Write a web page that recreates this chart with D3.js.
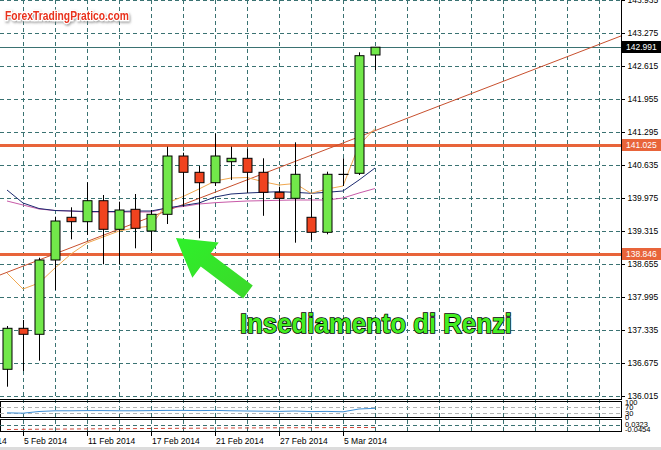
<!DOCTYPE html>
<meta charset="utf-8">
<style>
  body { margin: 0; background: #fff; }
  svg { display: block; font-family: "Liberation Sans", Arial, sans-serif; }
  .grid line { stroke: #3a7272; stroke-dasharray: 4,3; shape-rendering: crispEdges; }
  .yaxis path { display: none; }
  .yaxis line { stroke: #000; shape-rendering: crispEdges; }
  .yaxis text { font-size: 8.5px; fill: #000; }
  .xlab { font-size: 8.5px; fill: #000; }
</style>
<script src="https://cdnjs.cloudflare.com/ajax/libs/d3/7.8.5/d3.min.js"></script>
<body>
<script>

// daily candles, 4 Feb 2014 .. 7 Mar 2014
var dates = ["4 Feb 2014","5 Feb 2014","6 Feb 2014","7 Feb 2014","10 Feb 2014","11 Feb 2014","12 Feb 2014","13 Feb 2014","14 Feb 2014","17 Feb 2014","18 Feb 2014","19 Feb 2014","20 Feb 2014","21 Feb 2014","24 Feb 2014","25 Feb 2014","26 Feb 2014","27 Feb 2014","28 Feb 2014","3 Mar 2014","4 Mar 2014","5 Mar 2014","6 Mar 2014","7 Mar 2014"];
var open  = [136.549,137.369,137.249,138.735,139.589,139.501,139.921,139.349,139.749,139.315,139.649,140.815,140.489,140.281,140.701,140.769,140.489,140.089,139.969,139.589,139.289,140.445,140.469,142.835];
var high  = [137.415,137.535,138.781,139.601,139.789,140.289,140.035,139.901,140.055,139.735,141.001,140.881,140.615,141.265,141.001,140.959,140.769,140.201,141.089,140.035,140.501,140.769,142.889,142.995];
var low   = [136.201,136.515,136.721,138.135,139.149,139.235,138.649,138.655,138.969,138.915,139.455,139.801,139.169,140.215,140.335,140.079,139.619,138.769,139.081,139.135,139.249,140.215,140.435,142.535];
var close = [137.369,137.249,138.735,139.515,139.501,139.921,139.349,139.735,139.369,139.649,140.815,140.489,140.281,140.815,140.769,140.489,140.089,139.969,140.449,139.289,140.449,140.449,142.821,142.991];

// moving averages
var maFast = [138.475,138.155,138.275,138.575,138.855,139.075,139.195,139.315,139.375,139.415,139.875,140.005,140.155,140.315,140.375,140.385,140.301,140.235,140.265,140.069,140.155,140.215,141.035,141.365];
var maMid  = [140.135,139.875,139.765,139.725,139.715,139.705,139.705,139.705,139.715,139.715,139.775,139.825,139.875,139.995,140.055,140.075,140.089,140.101,140.089,140.069,140.089,140.115,140.335,140.575];
var maSlow = [139.915,139.835,139.755,139.725,139.715,139.695,139.695,139.695,139.695,139.695,139.775,139.805,139.855,139.881,139.899,139.915,139.921,139.929,139.935,139.935,139.935,139.975,140.075,140.165];

// sub-window indicators
var rsi  = [31.3,28.7,40,44.7,44.7,46,46,44.7,44.7,46,47.3,47.3,46,47.3,44.7,43.3,42,40.7,43.3,39.3,40.7,38,56.7,61.3];
var macdSignal = [-0.0348,-0.0340,-0.0327,-0.0320,-0.0313,-0.0305,-0.0298,-0.0292,-0.0285,-0.0277,-0.0270,-0.0263,-0.0256,-0.0249,-0.0242,-0.0238,-0.0234,-0.0228,-0.0224,-0.0220,-0.0214,-0.0210,-0.0207,-0.0210];

// axes
var yTicks = [143.935,143.275,142.615,141.955,141.295,140.635,139.975,139.315,138.655,137.995,137.335,136.675,136.015];
var xTickIdx = [-3,1,5,9,13,17,21];
var xTickLabels = ["30 Jan 2014","5 Feb 2014","11 Feb 2014","17 Feb 2014","21 Feb 2014","27 Feb 2014","5 Mar 2014"];
var rsiLabels = [100, 70, 30, 0];
var macdLabels = ["0.0323", "-0.0454"];

// drawn objects
var bidPrice = 142.991;
var levels = [141.025, 138.846];
var trendPts = [[0, 138.489], [24, 141.445]];
var arrowPts = [[15.06, 138.095], [10.56, 139.175]];   // tail, tip
var noteText = "Insediamento di Renzi";
var notePos = [14.56, 137.275];

var W = 661, H = 450, plotW = 621, plotH = 399;

var svg = d3.select("body").append("svg")
    .attr("width", W)
    .attr("height", H);

svg.append("rect").attr("width", W).attr("height", H).attr("fill", "#fff");

var defs = svg.append("defs");
defs.append("clipPath").attr("id", "clip")
  .append("rect").attr("width", plotW).attr("height", plotH);
var sh = defs.append("filter").attr("id", "shadow")
    .attr("x", "-10%").attr("y", "-30%").attr("width", "120%").attr("height", "170%");
sh.append("feDropShadow").attr("dx", 1).attr("dy", 1.5).attr("stdDeviation", 1)
    .attr("flood-color", "#777").attr("flood-opacity", 0.7);

var x = d3.scaleLinear().domain([-0.4375, 38.375]).range([0, plotW]);
var y = d3.scaleLinear().domain([136.015, 143.935]).range([396, 0]);
var rsiY = d3.scaleLinear().domain([0, 100]).range([417.5, 402.5]);
var macdY = d3.scaleLinear().domain([-0.0454, 0.0323]).range([431, 420]);

var idx = d3.range(dates.length);
var gridIdx = d3.range(1, 38, 2);

// vertical grid through all windows
svg.append("g").attr("class", "grid")
  .selectAll("line").data(gridIdx).enter().append("line")
    .attr("x1", function(d) { return Math.round(x(d)) + 0.5; })
    .attr("x2", function(d) { return Math.round(x(d)) + 0.5; })
    .attr("y1", 0).attr("y2", 431);

// horizontal grid
svg.append("g").attr("class", "grid")
  .selectAll("line").data(yTicks).enter().append("line")
    .attr("x1", 0).attr("x2", plotW)
    .attr("y1", function(d) { return Math.round(y(d)) + 0.5; })
    .attr("y2", function(d) { return Math.round(y(d)) + 0.5; });

var main = svg.append("g").attr("clip-path", "url(#clip)");

// bid line
main.append("line")
    .attr("x1", 0).attr("x2", plotW)
    .attr("y1", Math.round(y(bidPrice)) + 0.5).attr("y2", Math.round(y(bidPrice)) + 0.5)
    .attr("stroke", "#3a7272").attr("stroke-width", 1);

// support / resistance
main.selectAll(".lvl").data(levels).enter().append("line")
    .attr("class", "lvl")
    .attr("x1", 0).attr("x2", plotW)
    .attr("y1", function(d) { return y(d); }).attr("y2", function(d) { return y(d); })
    .attr("stroke", "#e8643a").attr("stroke-width", 3);

// trend line (ray)
var slope = (trendPts[1][1] - trendPts[0][1]) / (trendPts[1][0] - trendPts[0][0]);
var tEnd = x.invert(plotW + 5);
var tStart = x.invert(-5);
main.append("line")
    .attr("x1", x(tStart)).attr("y1", y(trendPts[0][1] + slope * (tStart - trendPts[0][0])))
    .attr("x2", x(tEnd)).attr("y2", y(trendPts[0][1] + slope * (tEnd - trendPts[0][0])))
    .attr("stroke", "#c8502e").attr("stroke-width", 1);

// moving averages
function maLine(arr, col) {
  main.append("path")
    .datum(arr)
    .attr("fill", "none")
    .attr("stroke", col)
    .attr("stroke-width", 1)
    .attr("d", d3.line().x(function(d, i) { return x(i); }).y(function(d) { return y(d); }));
}
maLine(maSlow, "#c85aa8");
maLine(maMid, "#1c2a70");
maLine(maFast, "#f0a850");

// candles
var candles = main.selectAll(".candle").data(idx).enter().append("g").attr("class", "candle");
candles.append("line")
    .attr("x1", function(i) { return Math.round(x(i)) + 0.5; })
    .attr("x2", function(i) { return Math.round(x(i)) + 0.5; })
    .attr("y1", function(i) { return y(high[i]); })
    .attr("y2", function(i) { return y(low[i]); })
    .attr("stroke", "#000");
candles.append("rect")
    .attr("x", function(i) { return Math.round(x(i)) - 4; })
    .attr("width", 9)
    .attr("y", function(i) { return y(Math.max(open[i], close[i])); })
    .attr("height", function(i) { return Math.max(0.1, Math.abs(y(open[i]) - y(close[i]))); })
    .attr("fill", function(i) { return close[i] >= open[i] ? "#72e84a" : "#f0431f"; })
    .attr("stroke", "#000").attr("stroke-width", 1);

// main window frame
svg.append("line").attr("x1", 0).attr("x2", 622).attr("y1", 399.5).attr("y2", 399.5).attr("stroke", "#000");
svg.append("line").attr("x1", 621.5).attr("x2", 621.5).attr("y1", 0).attr("y2", 400).attr("stroke", "#000");

// price axis
svg.append("g")
    .attr("class", "yaxis")
    .attr("transform", "translate(621.5,0)")
    .call(d3.axisRight(y).tickValues(yTicks).tickSize(3).tickPadding(3).tickFormat(d3.format(".3f")));

// price labels on axis
var tags = [{v: bidPrice, bg: "#000"}, {v: levels[0], bg: "#e8643a"}, {v: levels[1], bg: "#e8643a"}];
var tg = svg.selectAll(".tag").data(tags).enter().append("g").attr("class", "tag");
tg.append("rect")
    .attr("x", 622).attr("width", 39)
    .attr("y", function(d) { return Math.round(y(d.v)) - 6; }).attr("height", 12)
    .attr("fill", function(d) { return d.bg; });
tg.append("text")
    .attr("x", 626).attr("y", function(d) { return y(d.v); }).attr("dy", "0.34em")
    .attr("font-size", "8.5px").attr("fill", "#fff")
    .text(function(d) { return d3.format(".3f")(d.v); });

// RSI window
svg.append("rect").attr("x", 0.5).attr("y", 401.5).attr("width", 621).attr("height", 16)
    .attr("fill", "none").attr("stroke", "#000");
svg.selectAll(".rsilvl").data([70, 30]).enter().append("line")
    .attr("x1", 0).attr("x2", 621)
    .attr("y1", function(d) { return Math.round(rsiY(d)) + 0.5; })
    .attr("y2", function(d) { return Math.round(rsiY(d)) + 0.5; })
    .attr("stroke", "#b4b4b4").attr("stroke-dasharray", "4,3");
svg.append("path").datum(rsi)
    .attr("fill", "none").attr("stroke", "#3c8ed6").attr("stroke-width", 1)
    .attr("d", d3.line().x(function(d, i) { return x(i); }).y(function(d) { return rsiY(d); }));
svg.selectAll(".rsilab").data(rsiLabels).enter().append("text")
    .attr("x", 625).attr("y", function(d) { return rsiY(d); }).attr("dy", "0.34em")
    .attr("font-size", "7.5px").text(function(d) { return d; });

// MACD window
svg.append("rect").attr("x", 0.5).attr("y", 419.5).attr("width", 621).attr("height", 12)
    .attr("fill", "none").attr("stroke", "#000");
svg.append("line").attr("x1", 0).attr("x2", 621)
    .attr("y1", Math.round(macdY(0)) + 0.5).attr("y2", Math.round(macdY(0)) + 0.5)
    .attr("stroke", "#3a7272").attr("stroke-dasharray", "4,3");
svg.append("path").datum(macdSignal)
    .attr("fill", "none").attr("stroke", "#d04a3c").attr("stroke-width", 1).attr("stroke-dasharray", "4,3")
    .attr("d", d3.line().x(function(d, i) { return x(i); }).y(function(d) { return macdY(d); }));
svg.selectAll(".macdlab").data(macdLabels).enter().append("text")
    .attr("x", 625).attr("y", function(d, i) { return i === 0 ? 424 : 429; }).attr("dy", "0.34em")
    .attr("font-size", "7.5px").text(function(d) { return d; });

// time axis
svg.selectAll(".xtick").data(xTickIdx).enter().append("line")
    .attr("x1", function(d) { return Math.round(x(d)) + 0.5; })
    .attr("x2", function(d) { return Math.round(x(d)) + 0.5; })
    .attr("y1", 432).attr("y2", 436).attr("stroke", "#000");
svg.selectAll(".xlab").data(xTickIdx).enter().append("text")
    .attr("class", "xlab")
    .attr("x", function(d) { return Math.round(x(d)) + 1; })
    .attr("y", 444)
    .text(function(d, i) { return xTickLabels[i]; });

svg.append("rect").attr("x", 0).attr("y", 447).attr("width", W).attr("height", 3).attr("fill", "#dcdcdc");

// arrow annotation
var T = [x(arrowPts[0][0]), y(arrowPts[0][1])];
var P = [x(arrowPts[1][0]), y(arrowPts[1][1])];
var len = Math.hypot(P[0] - T[0], P[1] - T[1]);
var u = [(P[0] - T[0]) / len, (P[1] - T[1]) / len];
var n = [-u[1], u[0]];
var headLen = 37, headHalf = 22, shaftHalf = 8;
var B = [P[0] - u[0] * headLen, P[1] - u[1] * headLen];
function pt(base, k) { return [base[0] + n[0] * k, base[1] + n[1] * k]; }
var arrowPoly = [P, pt(B, headHalf), pt(B, shaftHalf), pt(T, shaftHalf), pt(T, -shaftHalf), pt(B, -shaftHalf), pt(B, -headHalf)];
var grad = defs.append("linearGradient").attr("id", "ag")
    .attr("x1", "0").attr("y1", "0").attr("x2", "1").attr("y2", "1");
grad.append("stop").attr("offset", "0").attr("stop-color", "#2ef02a");
grad.append("stop").attr("offset", "1").attr("stop-color", "#3cd82a");
svg.append("polygon")
    .attr("points", arrowPoly.map(function(p) { return p.join(","); }).join(" "))
    .attr("fill", "url(#ag)");

svg.append("text")
    .attr("x", x(notePos[0])).attr("y", y(notePos[1]))
    .attr("font-size", "27px").attr("font-weight", "bold")
    .attr("textLength", 272).attr("lengthAdjust", "spacingAndGlyphs")
    .attr("fill", "#44ee22").attr("stroke", "#000").attr("stroke-width", 1.6)
    .attr("paint-order", "stroke")
    .text(noteText);

// watermark
svg.append("text")
    .attr("x", 5).attr("y", 20)
    .attr("font-size", "12px").attr("font-weight", "bold")
    .attr("textLength", 124).attr("lengthAdjust", "spacingAndGlyphs")
    .attr("fill", "#e8301c").attr("stroke", "#fff").attr("stroke-width", 2.5)
    .attr("paint-order", "stroke").attr("filter", "url(#shadow)")
    .text("ForexTradingPratico.com");

</script>
</body>
